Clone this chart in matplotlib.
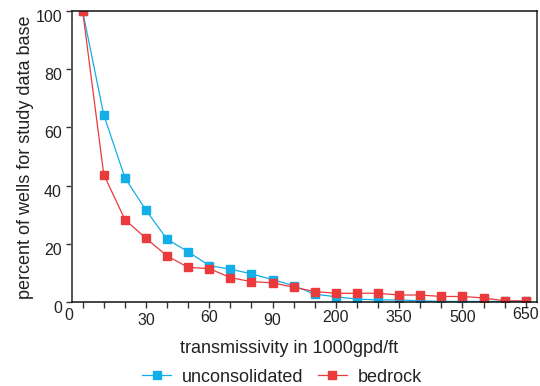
import matplotlib
matplotlib.use("Agg")
import matplotlib.pyplot as plt
import matplotlib.transforms as mtransforms

plt.rcParams['font.family'] = ['Liberation Sans', 'DejaVu Sans']

# transmissivity classes (1000 gpd/ft), plotted at equal spacing
transmissivity = [0, 10, 20, 30, 40, 50, 60, 70, 80, 90, 100,
                  150, 200, 250, 300, 350, 400, 450, 500, 550, 600, 650]
unconsolidated = [100, 64.3, 42.7, 31.5, 21.5, 17.2, 12.4, 11.2, 9.6, 7.6, 5.5,
                  2.6, 1.7, 0.9, 0.6, 0.6, 0.3, 0.1, 0.1, 0.1, 0.1, 0.1]
bedrock = [100, 43.8, 28.3, 21.8, 15.8, 11.8, 11.4, 8.3, 6.9, 6.5, 5.0,
           3.5, 2.9, 2.9, 2.9, 2.3, 2.3, 1.8, 1.8, 1.3, 0.3, 0.3]
shown_labels = [30, 60, 90, 200, 350, 500, 650]
y_ticks = [0, 20, 40, 60, 80, 100]

blue = '#12aee8'
red = '#ea3a3c'
txt = '#222222'

fig = plt.figure(figsize=(5.4, 3.86), dpi=100)
ax = fig.add_axes([0.1328, 0.2184, 0.9939 - 0.1328, 0.9707 - 0.2184])

pos = list(range(len(transmissivity)))
ax.plot(pos, unconsolidated, color=blue, lw=0.9, marker='s', ms=5.5,
        label='unconsolidated')
ax.plot(pos, bedrock, color=red, lw=0.9, marker='s', ms=5.5,
        label='bedrock')

ax.set_xlim(-0.52, 21.52)
ax.set_ylim(0, 100)

ax.set_xticks(pos)
ax.set_xticklabels([])
ax.set_yticks(y_ticks)
ax.tick_params(axis='both', direction='out', length=4, width=1,
               color='#333333', labelsize=11.5, labelcolor=txt, pad=3)

# y labels sit a bit low in the original
off = mtransforms.ScaledTranslation(0, -5 / 100, fig.dpi_scale_trans)
for lab in ax.get_yticklabels():
    lab.set_transform(lab.get_transform() + off)

# x labels, hand placed with the slight jitter of the original
xt = ax.get_xaxis_transform()
ax.text(-0.65, -14 / 290.4, '0', transform=xt, ha='center', va='center',
        fontsize=11.5, color=txt)
drops = [18.6, 16.3, 19.3, 15.8, 15.8, 16.3, 13.1]
for v, d in zip(shown_labels, drops):
    ax.text(transmissivity.index(v), -d / 290.4, str(v), transform=xt,
            ha='center', va='center', fontsize=11.5, color=txt)

for side in ['left', 'right']:
    ax.spines[side].set_color('#555555')
    ax.spines[side].set_linewidth(1.4)
for side in ['top', 'bottom']:
    ax.spines[side].set_color('#111111')
    ax.spines[side].set_linewidth(1.1)

fig.text(288.6 / 540, 1 - 348.5 / 386, 'transmissivity in 1000gpd/ft',
         ha='center', va='center', fontsize=13, color=txt)
fig.text(26 / 540, 1 - 157 / 386, 'percent of wells for study data base',
         ha='center', va='center', rotation=90, fontsize=13, color=txt)

fig.legend(loc='center', bbox_to_anchor=(282 / 540, 1 - 377 / 386), ncol=2,
           frameon=False, fontsize=13, handlelength=1.6, handletextpad=0.6,
           columnspacing=0.8, labelcolor=txt, borderaxespad=0, borderpad=0)

fig.savefig('out.png', dpi=100)
